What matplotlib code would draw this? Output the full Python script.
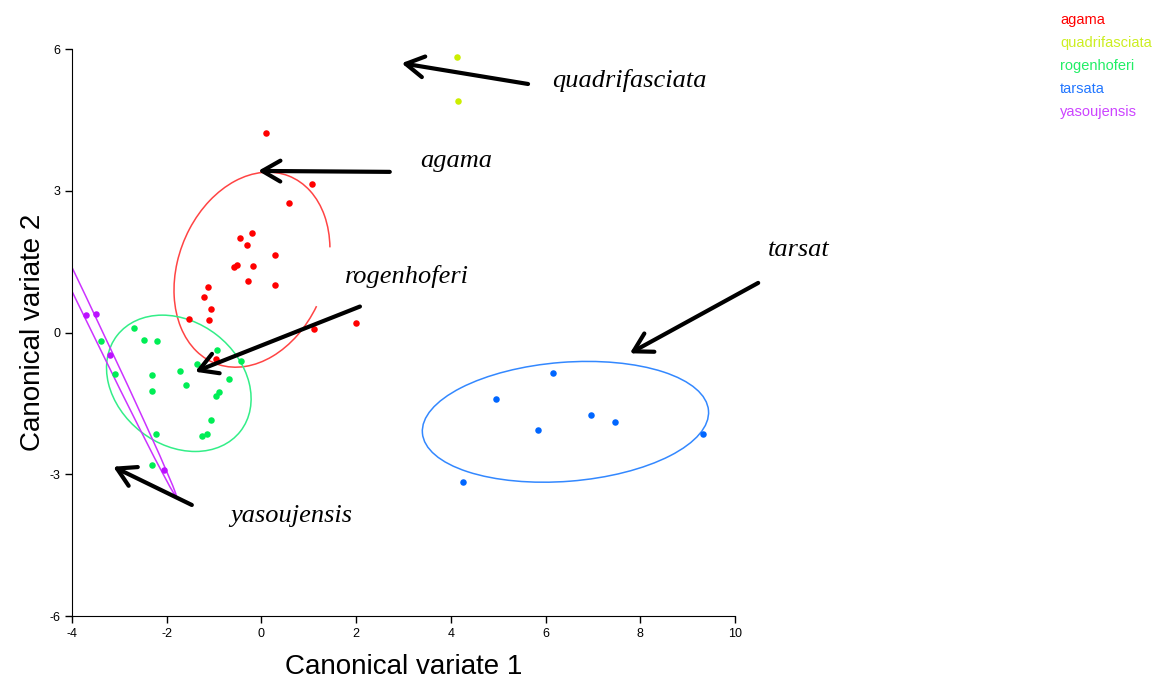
import matplotlib
matplotlib.use("Agg")
import matplotlib.pyplot as plt
from matplotlib.patches import Ellipse, Arc

# --- data ---
species = ['agama', 'quadrifasciata', 'rogenhoferi', 'tarsata', 'yasoujensis']

agama_x = [0.09, 1.06, 0.58, -0.45, -0.19, -0.30, 0.29, -0.52, -0.59, -0.17,
           -0.28, 0.28, -1.13, -1.22, -1.06, -1.54, -1.11, 2.00, 1.12, -0.95]
agama_y = [4.23, 3.15, 2.74, 2.00, 2.10, 1.86, 1.64, 1.43, 1.38, 1.41,
           1.09, 1.00, 0.97, 0.75, 0.49, 0.28, 0.27, 0.21, 0.08, -0.56]

quad_x = [4.12, 4.15]
quad_y = [5.84, 4.91]

rogen_x = [-2.70, -2.48, -2.21, -3.39, -0.93, -0.43, -1.37, -3.09, -2.32, -1.71,
           -0.68, -1.59, -2.31, -0.89, -0.95, -1.07, -2.22, -1.15, -1.25, -2.31]
rogen_y = [0.09, -0.15, -0.18, -0.17, -0.38, -0.61, -0.66, -0.87, -0.90, -0.81,
           -0.98, -1.11, -1.23, -1.26, -1.35, -1.85, -2.14, -2.15, -2.19, -2.80]

tars_x = [6.15, 4.95, 6.95, 7.47, 5.85, 9.32, 4.26]
tars_y = [-0.86, -1.41, -1.74, -1.89, -2.07, -2.14, -3.17]

yaso_x = [-3.70, -3.49, -3.20, -2.06]
yaso_y = [0.38, 0.39, -0.47, -2.92]

# ellipses: centre x, centre y, half major, half minor, angle
agama_ell = (-0.20, 1.33, 2.13, 1.56, 68.7)
rogen_ell = (-1.745, -1.075, 1.65, 1.30, -38.0)
tars_ell = (6.42, -1.89, 3.03, 1.26, 4.5)
yaso_ell = (-4.30, 1.75, 5.79, 0.11, -64.4)

point_colors = ['#ff0000', '#ccee00', '#00ee55', '#0066ff', '#bb11ff']
ring_colors = ['#ff4444', '#ccee00', '#33ee88', '#3388ff', '#cc33ff']
legend_colors = ['#ff0000', '#ccee22', '#22ee66', '#2277ff', '#cc44ff']

plt.rcParams['font.family'] = ['Liberation Sans', 'DejaVu Sans']
plt.rcParams['axes.unicode_minus'] = False

fig = plt.figure(figsize=(11.58, 6.8), dpi=100)
ax = fig.add_axes([0.0622, 0.0941, 0.5725, 0.8338])

groups = [(agama_x, agama_y), (quad_x, quad_y), (rogen_x, rogen_y),
          (tars_x, tars_y), (yaso_x, yaso_y)]
for (gx, gy), name, col in zip(groups, species, point_colors):
    ax.scatter(gx, gy, s=22, color=col, linewidths=0, label=name, zorder=3)

# agama ring is left open on its right side
cx, cy, a, b, ang = agama_ell
ax.add_patch(Arc((cx, cy), 2 * a, 2 * b, angle=ang, theta1=-52.7, theta2=261.8,
                 color=ring_colors[0], lw=1.1))
for ell, col in [(rogen_ell, ring_colors[2]), (tars_ell, ring_colors[3]),
                 (yaso_ell, ring_colors[4])]:
    cx, cy, a, b, ang = ell
    ax.add_patch(Ellipse((cx, cy), 2 * a, 2 * b, angle=ang, fill=False,
                         edgecolor=col, lw=1.1))

ax.set_xlim(-4, 10)
ax.set_ylim(-6, 6)
ax.set_xticks(range(-4, 11, 2))
ax.set_yticks([-6, -3, 0, 3, 6])
ax.spines['top'].set_visible(False)
ax.spines['right'].set_visible(False)
ax.tick_params(direction='out', length=5, width=1, labelsize=9)
ax.set_xlabel('Canonical variate 1', fontsize=20, labelpad=10)
ax.set_ylabel('Canonical variate 2', fontsize=20, labelpad=2)

# --- labels with arrows ---
notes = [
    ('quadrifasciata', (6.13, 5.20), (2.96, 5.70), (5.63, 5.26)),
    ('agama', (3.35, 3.50), (-0.07, 3.42), (2.71, 3.40)),
    ('rogenhoferi', (1.76, 1.04), (-1.40, -0.83), (2.08, 0.55)),
    ('tarsat', (10.70, 1.62), (7.78, -0.44), (10.49, 1.05)),
    ('yasoujensis', (-0.66, -4.00), (-3.13, -2.84), (-1.47, -3.65)),
]
for txt, pos, tip, tail in notes:
    ax.text(pos[0], pos[1], txt, fontsize=19, style='italic',
            family=['Liberation Serif', 'DejaVu Serif'],
            ha='left', va='baseline', clip_on=False)
    ax.annotate('', xy=tip, xytext=tail, annotation_clip=False,
                arrowprops=dict(arrowstyle='->,head_length=1.3,head_width=0.75',
                                lw=3, color='black', shrinkA=0, shrinkB=0,
                                mutation_scale=10))

# legend: coloured names only
leg = ax.legend(loc='upper left', bbox_to_anchor=(1060 / 1158, 1 - 13 / 680),
                bbox_transform=fig.transFigure, frameon=False, fontsize=10.5,
                handlelength=0, handletextpad=0, labelspacing=0.62,
                borderaxespad=0, borderpad=0)
for handle, text, col in zip(leg.legend_handles, leg.get_texts(), legend_colors):
    handle.set_visible(False)
    text.set_color(col)

fig.savefig('out.png', dpi=100)
